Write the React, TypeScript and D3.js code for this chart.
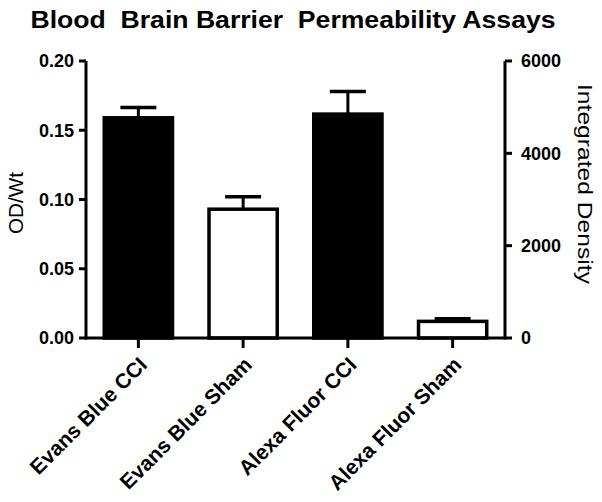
import React from 'react';
import * as d3 from 'd3';

// chart values
const categories = ['Evans Blue CCI', 'Evans Blue Sham', 'Alexa Fluor CCI', 'Alexa Fluor Sham'];
const barAxis = ['left', 'left', 'right', 'right'];
const barFill = ['black', 'white', 'black', 'white'];
const barValues = [0.159, 0.093, 4850, 360];
const barErrors = [0.0075, 0.009, 490, 55];
const leftTicks = [0, 0.05, 0.1, 0.15, 0.2];
const rightTicks = [0, 2000, 4000, 6000];

const W = 602;
const H = 502;
const margin = { top: 61, left: 86, right: 505, bottom: 338 };
const font = 'Arial, "Liberation Sans", Helvetica, sans-serif';

export default function App() {
  const x = d3.scaleBand<string>()
    .domain(categories)
    .range([margin.left, margin.right])
    .paddingInner(0.32)
    .paddingOuter(0.16);

  const yLeft = d3.scaleLinear().domain([0, 0.2]).range([margin.bottom, margin.top]);
  const yRight = d3.scaleLinear().domain([0, 6000]).range([margin.bottom, margin.top]);

  const capW = 36;

  return (
    <svg width={W} height={H} style={{ position: 'absolute', left: 0, top: 0, background: 'white' }}>
      {/* title */}
      <text x={293} y={28} textAnchor="middle" fontFamily={font} fontWeight="bold" fontSize={23}
        style={{ whiteSpace: 'pre' }} textLength={525} lengthAdjust="spacingAndGlyphs">
        {'Blood  Brain Barrier  Permeability Assays'}
      </text>

      {/* bars */}
      {categories.map((c, i) => {
        const y = barAxis[i] === 'left' ? yLeft : yRight;
        const x0 = x(c)!;
        const bw = x.bandwidth();
        const top = y(barValues[i]);
        const cx = x0 + bw / 2;
        const errTop = y(barValues[i] + barErrors[i]);
        return (
          <g key={c}>
            <line x1={cx} x2={cx} y1={top} y2={errTop} stroke="black" strokeWidth={3} />
            <line x1={cx - capW / 2} x2={cx + capW / 2} y1={errTop} y2={errTop} stroke="black" strokeWidth={3.5} />
            <rect x={x0 + 1.5} y={top} width={bw - 3} height={margin.bottom - top}
              fill={barFill[i]} stroke="black" strokeWidth={3.5} />
          </g>
        );
      })}

      {/* left axis */}
      <line x1={margin.left} x2={margin.left} y1={yLeft(0.2)} y2={margin.bottom + 1.5} stroke="black" strokeWidth={3} />
      {leftTicks.map(t => (
        <g key={t}>
          <line x1={margin.left - 7} x2={margin.left} y1={yLeft(t)} y2={yLeft(t)} stroke="black" strokeWidth={3} />
          <text x={margin.left - 12} y={yLeft(t)} dy="0.36em" textAnchor="end" fontFamily={font}
            fontWeight="bold" fontSize={18}>{d3.format('.2f')(t)}</text>
        </g>
      ))}

      {/* right axis */}
      <line x1={margin.right} x2={margin.right} y1={yRight(6000)} y2={margin.bottom + 1.5} stroke="black" strokeWidth={3} />
      {rightTicks.map(t => (
        <g key={t}>
          <line x1={margin.right} x2={margin.right + 7} y1={yRight(t)} y2={yRight(t)} stroke="black" strokeWidth={3} />
          <text x={margin.right + 16} y={yRight(t)} dy="0.36em" textAnchor="start" fontFamily={font}
            fontWeight="bold" fontSize={18}>{t}</text>
        </g>
      ))}

      {/* x axis */}
      <line x1={margin.left} x2={margin.right} y1={margin.bottom} y2={margin.bottom} stroke="black" strokeWidth={3} />
      {categories.map(c => {
        const cx = x(c)! + x.bandwidth() / 2;
        return (
          <g key={c}>
            <line x1={cx} x2={cx} y1={margin.bottom} y2={margin.bottom + 10} stroke="black" strokeWidth={3} />
            <text transform={`translate(${cx + 10},${margin.bottom + 28}) rotate(-45)`} textAnchor="end"
              fontFamily={font} fontWeight="bold" fontSize={21}>{c}</text>
          </g>
        );
      })}

      {/* axis titles */}
      <text transform="translate(23,203) rotate(-90)" textAnchor="middle" fontFamily={font} fontSize={20}
        textLength={62} lengthAdjust="spacingAndGlyphs">OD/Wt</text>
      <text transform="translate(578,184) rotate(90)" textAnchor="middle" fontFamily={font} fontSize={20}
        textLength={200} lengthAdjust="spacingAndGlyphs">Integrated Density</text>
    </svg>
  );
}
